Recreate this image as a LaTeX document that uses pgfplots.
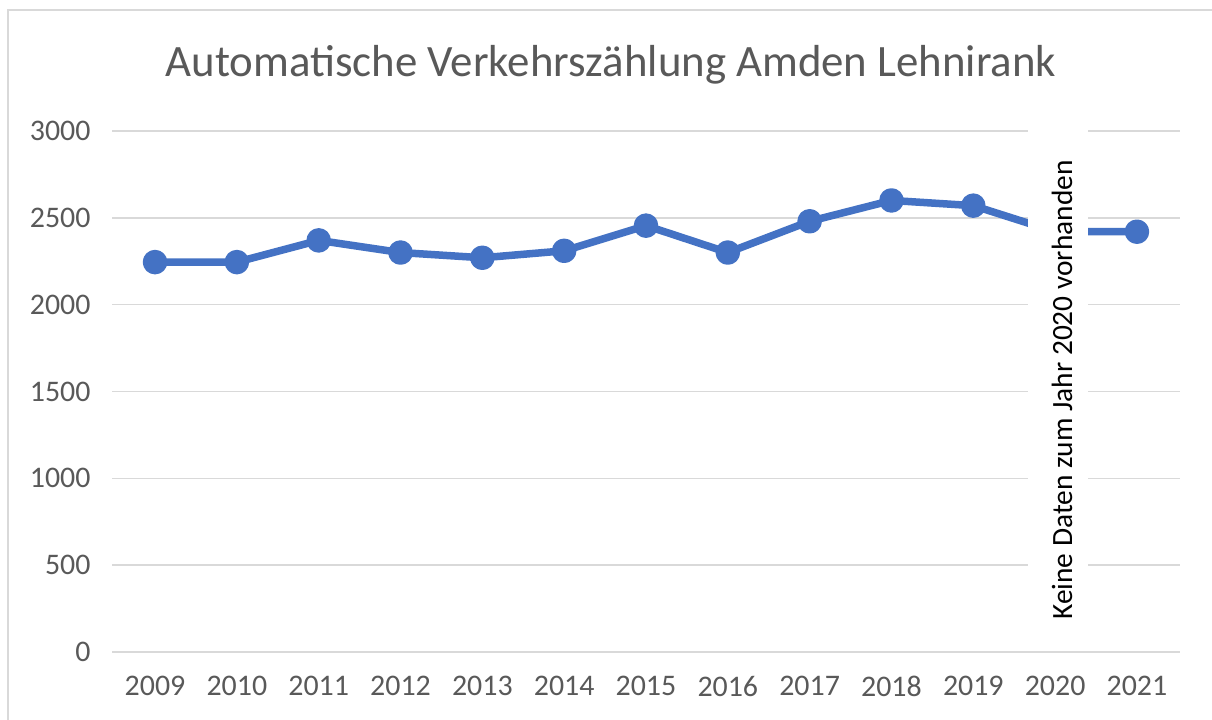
\documentclass[border=0pt]{standalone}
\usepackage{fontspec}
\setmainfont{Carlito}
\usepackage{pgfplots}
\pgfplotsset{compat=1.18}
\definecolor{excelblue}{RGB}{68,114,196}
\definecolor{gridgray}{RGB}{217,217,217}
\definecolor{textgray}{RGB}{89,89,89}
\begin{document}
\begin{tikzpicture}[x=1bp,y=1bp]
\useasboundingbox (0,0) rectangle (1212,720);
\fill[white] (0,0) rectangle (1212,720);
\draw[gridgray, line width=1.5bp] (8,-10) rectangle (1230,710);
\begin{axis}[at={(112bp,68bp)}, anchor=south west, scale only axis,
  width=1068bp, height=521bp,
  xmin=2008.474, xmax=2021.526, ymin=0, ymax=3000,
  xtick={2009,2010,...,2021}, ytick={0,500,...,3000},
  axis line style={draw=none}, tick style={draw=none},
  ymajorgrids, grid style={gridgray, line width=1.5bp},
  xticklabel style={font=\fontsize{30}{34}\selectfont, text=textgray, yshift=-21bp},
  yticklabel style={font=\fontsize{30}{34}\selectfont, text=textgray, xshift=-18bp},
  /pgf/number format/assume math mode=true,
  /pgf/number format/1000 sep={},
  clip=false]
\addplot[excelblue, line width=7.5bp, line join=round, mark=*, mark size=8.5bp,
  mark options={fill=excelblue, draw=none}] coordinates {
  (2009,2245) (2010,2245) (2011,2370) (2012,2300) (2013,2270) (2014,2310)
  (2015,2455) (2016,2300) (2017,2480) (2018,2600) (2019,2570) (2020,2420) (2021,2420)};
\end{axis}
\fill[white] (1028,90) rectangle (1088,600);
\node[rotate=90, font=\fontsize{29.5}{34}\selectfont, text=black] at (1062,330) {Keine Daten zum Jahr 2020 vorhanden};
\node[font=\fontsize{45}{50}\selectfont, text=textgray] at (611,655) {Automatische Verkehrszählung Amden Lehnirank};
\end{tikzpicture}
\end{document}
